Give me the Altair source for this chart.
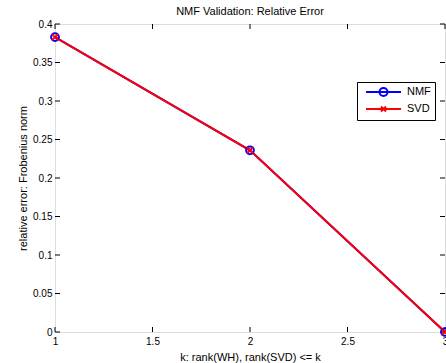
import altair as alt
import pandas as pd

k_values = [1, 2, 3]
nmf_error = [0.383, 0.236, 0.0]
svd_error = [0.383, 0.236, 0.0]
series_names = ["NMF", "SVD"]
series_colors = ["#0000ff", "#ff0000"]
x_ticks = [1, 1.5, 2, 2.5, 3]
y_ticks = [0, 0.05, 0.1, 0.15, 0.2, 0.25, 0.3, 0.35, 0.4]

df = pd.DataFrame(
    {"k": k_values * 2,
     "err": nmf_error + svd_error,
     "series": ["NMF"] * len(k_values) + ["SVD"] * len(k_values)}
)
xt = pd.DataFrame({"t": x_ticks})
yt = pd.DataFrame({"t": y_ticks})

W, H = 390, 308
FONT = "Liberation Sans"

xscale = alt.Scale(domain=[1, 3], nice=False, zero=False)
yscale = alt.Scale(domain=[0, 0.4], nice=False)
cscale = alt.Scale(domain=series_names, range=series_colors)

x_axis = alt.Axis(values=x_ticks, format="~g", ticks=False, domain=False, grid=False,
                  labelPadding=4, labelOverlap=False, labelFlush=False,
                  title="k: rank(WH), rank(SVD) <= k", titlePadding=5,
                  titleFontWeight="normal", titleFont=FONT, titleFontSize=11)
y_axis = alt.Axis(values=y_ticks, format="~g", ticks=False, domain=False, grid=False,
                  labelPadding=3, labelOverlap=False, labelFlush=False,
                  title="relative error: Frobenius norm", titlePadding=4,
                  titleFontWeight="normal", titleFont=FONT, titleFontSize=11)

base = alt.Chart(df)

def series_layers(name, color, shape, size):
    d = base.transform_filter(alt.datum.series == name)
    ln = d.mark_line(strokeWidth=2, color=color).encode(
        x=alt.X("k:Q", scale=xscale, axis=x_axis), y=alt.Y("err:Q", scale=yscale, axis=y_axis))
    pt = d.mark_point(shape=shape, size=size, strokeWidth=2, filled=False, opacity=1,
                      color=color).encode(
        x=alt.X("k:Q", scale=xscale, axis=x_axis), y=alt.Y("err:Q", scale=yscale, axis=y_axis))
    return ln, pt

nmf_line, nmf_pts = series_layers("NMF", series_colors[0], "circle", 60)
svd_line, svd_pts = series_layers("SVD", series_colors[1], "M-1,-1L1,1M-1,1L1,-1", 36)

nmf_sym = "M-0.2,0L6.8,0M4.1,0A0.8,0.8 0 1 1 2.5,0A0.8,0.8 0 1 1 4.1,0"
svd_sym = "M-0.2,0L6.8,0M2.8,-0.5L3.8,0.5M2.8,0.5L3.8,-0.5"

legend_layer = base.mark_point(filled=False, opacity=0, size=100, strokeWidth=2).encode(
    x=alt.X("k:Q", scale=xscale, axis=x_axis), y=alt.Y("err:Q", scale=yscale, axis=y_axis),
    color=alt.Color("series:N", scale=cscale,
                    legend=alt.Legend(title=None, orient="none", legendX=302, legendY=58,
                                      strokeColor="black", fillColor="white", padding=4,
                                      rowPadding=2, symbolOpacity=1, symbolStrokeWidth=2,
                                      symbolSize=100, labelOffset=34, labelFont=FONT,
                                      labelFontSize=11, labelColor="black")),
    shape=alt.Shape("series:N", scale=alt.Scale(domain=series_names, range=[nmf_sym, svd_sym])),
)

def tick_rules(df_t, axis):
    c = alt.Chart(df_t).mark_rule(color="black", strokeWidth=1)
    X = alt.X("t:Q", scale=xscale, axis=x_axis)
    Y = alt.Y("t:Q", scale=yscale, axis=y_axis)
    if axis == "bottom":
        return c.encode(x=X, y=alt.value(H), y2=alt.value(H - 5))
    if axis == "top":
        return c.encode(x=X, y=alt.value(0), y2=alt.value(5))
    if axis == "left":
        return c.encode(y=Y, x=alt.value(0), x2=alt.value(5))
    return c.encode(y=Y, x=alt.value(W), x2=alt.value(W - 5))

chart = alt.layer(
    nmf_line, svd_line,
    tick_rules(xt, "bottom"), tick_rules(xt, "top"),
    tick_rules(yt, "left"), tick_rules(yt, "right"),
    nmf_pts, svd_pts, legend_layer,
).properties(
    width=W, height=H,
    title=alt.TitleParams("NMF Validation: Relative Error", font=FONT, fontSize=11,
                          fontWeight="normal", color="black", anchor="middle", offset=2),
    autosize=alt.AutoSizeParams(type="none"),
    padding={"left": 55, "top": 24, "right": 1, "bottom": 31},
).configure_view(
    stroke="black", strokeWidth=1
).configure_axis(
    labelFont=FONT, labelFontSize=11, labelColor="black",
    titleFont=FONT, titleFontSize=11, titleColor="black", titleFontWeight="normal",
).configure(background="white")

chart.save("out.html", embed_options={"renderer": "svg", "actions": False})
